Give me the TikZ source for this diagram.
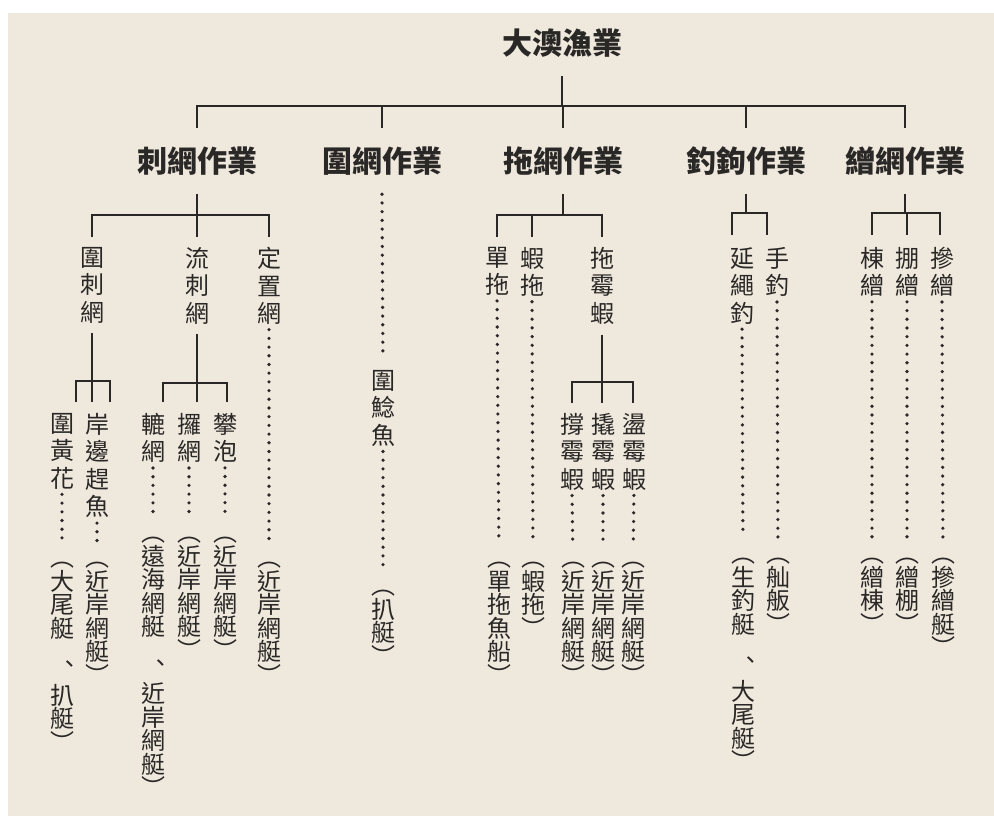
\documentclass[tikz,border=0pt]{standalone}
\usepackage{fontspec}
\newfontfamily\cjk{Noto Sans CJK TC}
\definecolor{paper}{RGB}{239,232,221}
\definecolor{ink}{RGB}{42,40,38}
\tikzset{
  head/.style={font=\cjk\bfseries\fontsize{30}{32}\selectfont, text=ink, inner sep=0pt, outer ysep=19pt},
  vtext/.style={font=\cjk\fontsize{24}{27.5}\selectfont, text=ink, align=center, anchor=north, inner sep=0pt},
  vboat/.style={vtext, font=\cjk\fontsize{24}{23.5}\selectfont},
  link/.style={draw=ink, line width=1.8pt},
  leader/.style={draw=ink, line width=3.6pt, line cap=round, dash pattern=on 0pt off 8.7pt, shorten <=5pt, shorten >=21pt},
}
\newcommand{\vcomma}{\\[20pt]︑\\[0pt]}
\begin{document}
\begin{tikzpicture}[x=1pt,y=-1pt]
	\fill[white] (0,0) rectangle (994,816);
	\fill[paper] (8,13) rectangle (994,816);
	\useasboundingbox (0,0) rectangle (994,816);

	% top row
	\node[head] (root) at (562,43) {大澳漁業};
	\node[head] (t1) at (197,161) {刺網作業};
	\node[head] (t2) at (382,161) {圍網作業};
	\node[head] (t3) at (563,161) {拖網作業};
	\node[head] (t4) at (746,161) {釣鉤作業};
	\node[head] (t5) at (905,161) {繒網作業};

	\draw[link] (root.south) -- (root.south |- 0,106);
	\draw[link] (t1.north) |- (t5.north |- 0,106) -- (t5.north);
	\foreach \t in {t2,t3,t4} \draw[link] (\t.north) -- (\t.north |- 0,106);

	% 刺網作業
	\node[vtext] (a1) at (92,247) {圍\\刺\\網};
	\node[vtext] (a2) at (197,247) {流\\刺\\網};
	\node[vtext] (a3) at (269,247) {定\\置\\網};
	\draw[link] (t1.south) -- (197,237);
	\draw[link] (92,237) |- (269,215) -- (269,237);

	\node[vtext] (a11) at (62,413) {圍\\黃\\花};
	\node[vtext] (a12) at (97,413) {岸\\邊\\趕\\魚};
	\draw[link,shorten <=10pt] (a1.south) -- (92,402);
	\draw[link] (76,402) |- (110,381) -- (110,402);

	\node[vtext] (a21) at (153,413) {轆\\網};
	\node[vtext] (a22) at (189,413) {攞\\網};
	\node[vtext] (a23) at (225,413) {攀\\泡};
	\draw[link,shorten <=10pt] (a2.south) -- (197,402);
	\draw[link] (163,402) |- (227,383) -- (227,402);

	\node[vboat] (p11) at (62,562) {︵\\大\\尾\\艇\vcomma 扒\\艇\\︶};
	\node[vboat] (p12) at (97,562) {︵\\近\\岸\\網\\艇\\︶};
	\node[vboat] (p21) at (153,537) {︵\\遠\\海\\網\\艇\vcomma 近\\岸\\網\\艇\\︶};
	\node[vboat] (p22) at (189,537) {︵\\近\\岸\\網\\艇\\︶};
	\node[vboat] (p23) at (225,537) {︵\\近\\岸\\網\\艇\\︶};
	\node[vboat] (p3) at (269,562) {︵\\近\\岸\\網\\艇\\︶};
	\foreach \a/\b in {a11/p11,a12/p12,a21/p21,a22/p22,a23/p23,a3/p3}
		\draw[leader] (\a.south) -- (\b.north);

	% 圍網作業
	\node[vtext] (b1) at (383,370) {圍\\鯰\\魚};
	\node[vboat] (pb) at (383,590) {︵\\扒\\艇\\︶};
	\draw[leader,shorten <=0pt,shorten >=18pt] (t2.south) -- (b1.north);
	\draw[leader,shorten >=22pt] (b1.south) -- (pb.north);

	% 拖網作業
	\node[vtext] (c1) at (497,247) {單\\拖};
	\node[vtext] (c2) at (532,247) {蝦\\拖};
	\node[vtext] (c3) at (602,247) {拖\\霉\\蝦};
	\draw[link] (t3.south) -- (t3.south |- 0,215);
	\draw[link] (497,237) |- (602,215) -- (602,237);
	\draw[link] (532,215) -- (532,237);

	\node[vtext] (c31) at (572,413) {撐\\霉\\蝦};
	\node[vtext] (c32) at (603,413) {撬\\霉\\蝦};
	\node[vtext] (c33) at (634,413) {盪\\霉\\蝦};
	\draw[link,shorten <=10pt] (c3.south) -- (602,403);
	\draw[link] (572,403) |- (633,382) -- (633,403);

	\node[vboat] (q1) at (499,562) {︵\\單\\拖\\魚\\船\\︶};
	\node[vboat] (q2) at (533,562) {︵\\蝦\\拖\\︶};
	\node[vboat] (q31) at (573,562) {︵\\近\\岸\\網\\艇\\︶};
	\node[vboat] (q32) at (603,562) {︵\\近\\岸\\網\\艇\\︶};
	\node[vboat] (q33) at (633,562) {︵\\近\\岸\\網\\艇\\︶};
	\foreach \a/\b in {c1/q1,c2/q2,c31/q31,c32/q32,c33/q33}
		\draw[leader] (\a.south) -- (\b.north);

	% 釣鉤作業
	\node[vtext] (d1) at (742,247) {延\\繩\\釣};
	\node[vtext] (d2) at (777,247) {手\\釣};
	\draw[link] (t4.south) -- (t4.south |- 0,213);
	\draw[link] (732,235) |- (767,213) -- (767,235);

	\node[vboat] (r1) at (743,558) {︵\\生\\釣\\艇\vcomma 大\\尾\\艇\\︶};
	\node[vboat] (r2) at (778,558) {︵\\舢\\舨\\︶};
	\foreach \a/\b in {d1/r1,d2/r2}
		\draw[leader] (\a.south) -- (\b.north);

	% 繒網作業
	\node[vtext] (e1) at (872,247) {棟\\繒};
	\node[vtext] (e2) at (907,247) {掤\\繒};
	\node[vtext] (e3) at (942,247) {摻\\繒};
	\draw[link] (t5.south) -- (t5.south |- 0,213);
	\draw[link] (872,235) |- (940,213) -- (940,235);
	\draw[link] (907,213) -- (907,235);

	\node[vboat] (s1) at (872,558) {︵\\繒\\棟\\︶};
	\node[vboat] (s2) at (907,558) {︵\\繒\\棚\\︶};
	\node[vboat] (s3) at (943,558) {︵\\摻\\繒\\艇\\︶};
	\foreach \a/\b in {e1/s1,e2/s2,e3/s3}
		\draw[leader] (\a.south) -- (\b.north);
\end{tikzpicture}
\end{document}
